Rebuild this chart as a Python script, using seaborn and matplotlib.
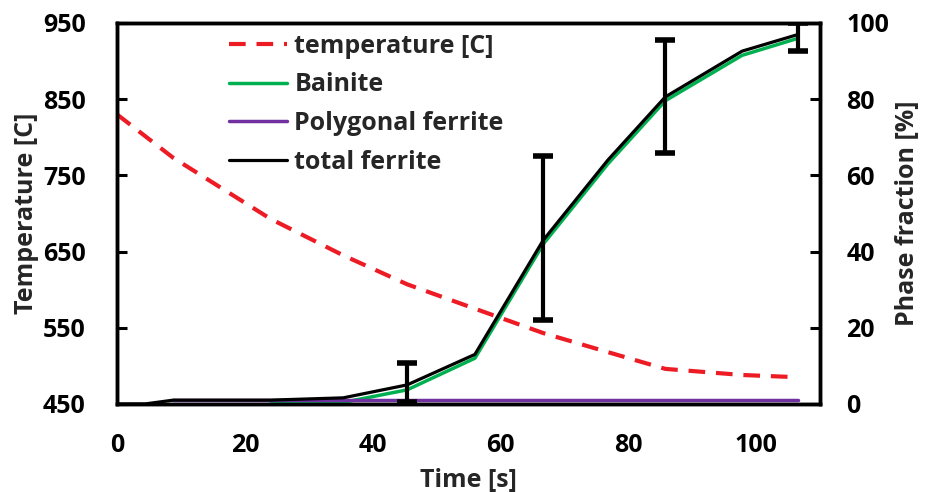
import matplotlib
matplotlib.use("Agg")
import matplotlib.pyplot as plt
import seaborn as sns
import pandas as pd

sns.set_theme(style="white")
plt.rcParams["font.family"] = ["Open Sans", "DejaVu Sans"]
plt.rcParams["font.weight"] = "bold"

# Cooling history
temp_time = [0, 8.8, 24, 35.4, 45.4, 56, 66.7, 76.8, 85.8, 97.8, 106.6]
temperature = [830, 773, 693, 645, 607, 575, 543, 518, 496, 488, 485]

# Phase fractions [%]
total_time = [0, 4.4, 8.8, 24, 35.4, 45.4, 56, 66.7, 76.8, 85.8, 97.8, 106.6]
total_ferrite = [0, 0, 1.0, 1.0, 1.6, 5.0, 13.0, 43.0, 64.0, 80.6, 92.6, 97.0]

bainite_time = [24, 35.4, 45.4, 56, 66.7, 76.8, 85.8, 97.8, 106.6]
bainite = [0, 0.4, 3.7, 12.0, 42.0, 63.0, 79.6, 91.5, 96.0]

poly_time = [8.8, 24, 35.4, 45.4, 56, 66.7, 76.8, 85.8, 97.8, 106.6]
poly_ferrite = [1.0, 1.0, 1.0, 1.0, 1.0, 1.0, 1.0, 1.0, 1.0, 1.0]

# Measured total ferrite with scatter
meas_time = [45.4, 66.7, 85.8, 106.6]
meas_mean = [5.6, 43.5, 80.8, 96.3]
meas_err = [5.2, 21.5, 14.8, 3.7]

RED = "#ED1C24"
GREEN = "#00B050"
PURPLE = "#7030A0"
FS = 18

fig = plt.figure(figsize=(9.25, 4.92), dpi=100)
ax = fig.add_axes([0.1265, 0.179, 0.76, 0.7743])
ax2 = ax.twinx()

df_t = pd.DataFrame({"t": temp_time, "T": temperature})
sns.lineplot(data=df_t, x="t", y="T", ax=ax, color=RED, lw=3,
             label="temperature [C]", legend=False)
ax.lines[-1].set_dashes([4, 2.6])

sns.lineplot(x=bainite_time, y=bainite, ax=ax2, color=GREEN, lw=2.5,
             label="Bainite", legend=False)
sns.lineplot(x=poly_time, y=poly_ferrite, ax=ax2, color=PURPLE, lw=2.5,
             label="Polygonal ferrite", legend=False)
sns.lineplot(x=total_time, y=total_ferrite, ax=ax2, color="black", lw=2.3,
             label="total ferrite", legend=False)
ax2.errorbar(meas_time, meas_mean, yerr=meas_err, fmt="none", ecolor="black",
             elinewidth=3, capsize=7.5, capthick=4, zorder=5)

ax.set_xlim(0, 110)
ax.set_ylim(450, 950)
ax.set_yticks([450, 550, 650, 750, 850, 950])
ax.set_xticks([0, 20, 40, 60, 80, 100])
ax2.set_ylim(0, 100)
ax2.set_yticks([0, 20, 40, 60, 80, 100])

for a in (ax, ax2):
    for s in a.spines.values():
        s.set_linewidth(2.5)
        s.set_color("black")
    a.tick_params(direction="in", length=7, width=2.2, colors="black",
                  labelsize=FS, pad=19)
ax.tick_params(axis="y", pad=22.5)
ax.tick_params(axis="x", pad=21)
for lbl in ax.get_xticklabels() + ax.get_yticklabels() + ax2.get_yticklabels():
    lbl.set_fontweight("bold")

ax.set_xlabel("Time [s]", fontsize=FS, fontweight="bold", labelpad=7)
ax.set_ylabel("Temperature [C]", fontsize=FS, fontweight="bold", labelpad=3)
ax2.set_ylabel("Phase fraction [%]", fontsize=FS, fontweight="bold", labelpad=4)

h1, l1 = ax.get_legend_handles_labels()
h2, l2 = ax2.get_legend_handles_labels()
leg = ax2.legend(h1 + h2, l1 + l2, loc="upper left", bbox_to_anchor=(0.16, 0.972),
                 frameon=False, fontsize=FS, handlelength=2.3, handletextpad=0.3,
                 labelspacing=0.55, borderpad=0, borderaxespad=0)
for t in leg.get_texts():
    t.set_fontweight("bold")

fig.savefig("out.png", dpi=100)
